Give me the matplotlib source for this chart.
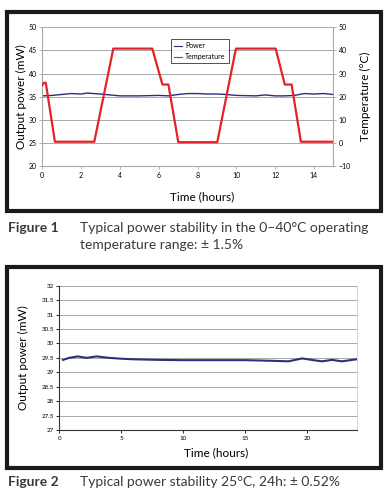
import matplotlib.pyplot as plt
from matplotlib.patches import Rectangle

plt.rcParams['font.family'] = ['Lato', 'DejaVu Sans']

# --- Figure 1 data ---
temp_time = [0, 0.08, 0.18, 0.65, 2.68, 3.66, 5.67, 6.19, 6.5, 7.01, 9.02, 9.98, 12.03, 12.5, 12.85, 13.33, 15]
temp_vals = [25, 26, 26, 0.6, 0.6, 40.8, 40.8, 25.3, 25.3, 0.4, 0.4, 40.8, 40.8, 25.3, 25.3, 0.6, 0.6]

pow1_time = [0, 0.5, 1.0, 1.5, 2.0, 2.3, 3.0, 3.5, 4.0, 5.0, 6.0, 6.5, 7.0, 7.5, 8.0, 8.5,
             9.0, 9.5, 10.0, 11.0, 11.5, 12.0, 12.5, 13.0, 13.5, 14.0, 14.5, 15.0]
pow1_vals = [35.2, 35.3, 35.5, 35.7, 35.6, 35.8, 35.6, 35.4, 35.2, 35.2, 35.3, 35.2, 35.5, 35.7,
             35.7, 35.6, 35.6, 35.5, 35.3, 35.2, 35.4, 35.2, 35.2, 35.3, 35.7, 35.6, 35.7, 35.5]

# --- Figure 2 data ---
pow2_time = [0.3, 0.8, 1.5, 2.2, 3.0, 4.0, 5.0, 6.0, 8.0, 10.0, 12.0, 15.0, 17.0, 18.5,
             19.6, 20.5, 21.2, 22.0, 22.8, 24.0]
pow2_vals = [29.43, 29.5, 29.55, 29.5, 29.55, 29.5, 29.47, 29.45, 29.43, 29.42, 29.42, 29.42,
             29.4, 29.38, 29.48, 29.42, 29.38, 29.43, 29.38, 29.45]

caption1 = ['Typical power stability in the 0\u201340\u00b0C operating', 'temperature range: \u00b1 1.5%']
caption2 = 'Typical power stability 25\u00b0C, 24h: \u00b1 0.52%'

W, H = 386, 501
fig = plt.figure(figsize=(W / 100, H / 100), dpi=100)

def fx(px):
    return px / W

def fy(py):
    return 1 - py / H

# black frames around the two panels
for top, bot in [(12, 211), (267, 468)]:
    fig.patches.append(Rectangle((fx(7), fy(bot)), fx(381) - fx(7), fy(top) - fy(bot),
                                 transform=fig.transFigure, fill=False, edgecolor='#1a1a1a',
                                 linewidth=3))

grid_c = '#a8a8a8'
tick_fs = 5
lab_fs = 8.5

# --- Panel 1 ---
ax1 = fig.add_axes([fx(42.3), fy(166.3), fx(333.3) - fx(42.3), fy(27.3) - fy(166.3)])
ax2 = ax1.twinx()
ax1.plot(pow1_time, pow1_vals, color='#27307a', linewidth=1.0, label='Power')
ax2.plot(temp_time, temp_vals, color='#e4222a', linewidth=1.6, label='Temperature')
ax1.set_xlim(0, 15)
ax1.set_ylim(20, 50)
ax2.set_ylim(-10, 50)
ax1.set_xticks(range(0, 15, 2))
ax1.set_yticks(range(20, 51, 5))
ax2.set_yticks(range(-10, 51, 10))
ax1.grid(axis='y', color=grid_c, linewidth=0.7)
ax1.set_axisbelow(True)
for a in (ax1, ax2):
    a.spines['top'].set_visible(False)
    for s in ['left', 'right', 'bottom']:
        a.spines[s].set_color(grid_c)
        a.spines[s].set_linewidth(0.8)
    a.tick_params(labelsize=tick_fs, length=2, width=0.6, color=grid_c, pad=2)
ax1.spines['right'].set_visible(False)
ax2.spines['left'].set_visible(False)
ax2.spines['bottom'].set_visible(False)
ax1.set_ylabel('Output power (mW)', fontsize=lab_fs)
ax1.yaxis.set_label_coords((21.7 - 42.3) / 291, 0.5, transform=ax1.transAxes)
ax1.yaxis.label.set_va('center')
ax2.set_ylabel('Temperature (\u00b0C)', fontsize=lab_fs)
ax2.yaxis.set_label_coords((365 - 42.3) / 291, 0.5, transform=ax2.transAxes)
ax2.yaxis.label.set_va('center')
ax1.set_xlabel('Time (hours)', fontsize=lab_fs)
ax1.xaxis.set_label_coords((202 - 42.3) / 291, -(197 - 166.3) / 139, transform=ax1.transAxes)
ax1.xaxis.label.set_va('center')

h1, l1 = ax1.get_legend_handles_labels()
h2, l2 = ax2.get_legend_handles_labels()
leg = ax2.legend(h1 + h2, l1 + l2, loc='upper left', bbox_to_anchor=(0.442, 0.915),
                 fontsize=5, frameon=True, fancybox=False, handlelength=1.2,
                 handletextpad=0.4, borderpad=0.45, labelspacing=0.55, borderaxespad=0)
leg.get_frame().set_edgecolor('black')
leg.get_frame().set_linewidth(0.6)
for ln in leg.get_lines():
    ln.set_linewidth(0.8)

# --- Panel 2 ---
ax3 = fig.add_axes([fx(59.3), fy(430), fx(356.7) - fx(59.3), fy(285.7) - fy(430)])
ax3.plot(pow2_time, pow2_vals, color='#2b2f7f', linewidth=1.5)
ax3.set_xlim(0, 24)
ax3.set_ylim(27, 32)
ax3.set_xticks(range(0, 21, 5))
ax3.set_yticks([27 + 0.5 * i for i in range(11)])
ax3.set_yticklabels(['27', '27.5', '28', '28.5', '29', '29.5', '30', '30.5', '31', '31.5', '32'])
ax3.grid(axis='y', color=grid_c, linewidth=0.7)
ax3.set_axisbelow(True)
ax3.spines['top'].set_visible(False)
ax3.spines['right'].set_color('#d0d0d0')
ax3.spines['right'].set_linewidth(0.6)
for s in ['left', 'bottom']:
    ax3.spines[s].set_color('#333333')
    ax3.spines[s].set_linewidth(0.8)
ax3.tick_params(labelsize=4.5, length=2, width=0.6, pad=2)
ax3.set_ylabel('Output power (mW)', fontsize=lab_fs)
ax3.yaxis.set_label_coords((23 - 59.3) / 297.4, 0.5, transform=ax3.transAxes)
ax3.yaxis.label.set_va('center')
ax3.set_xlabel('Time (hours)', fontsize=lab_fs)
ax3.xaxis.set_label_coords((216 - 59.3) / 297.4, -(453 - 430) / 144.3, transform=ax3.transAxes)
ax3.xaxis.label.set_va('center')

# --- Captions ---
cap_c = '#3a3a3a'
cap_fs = 10
fig.text(fx(8), fy(228), 'Figure 1', fontsize=cap_fs, fontweight='bold', color=cap_c, va='center')
fig.text(fx(80), fy(228), caption1[0], fontsize=cap_fs, color=cap_c, va='center')
fig.text(fx(80), fy(245), caption1[1], fontsize=cap_fs, color=cap_c, va='center')
fig.text(fx(8), fy(482), 'Figure 2', fontsize=cap_fs, fontweight='bold', color=cap_c, va='center')
fig.text(fx(80), fy(482), caption2, fontsize=cap_fs, color=cap_c, va='center')

fig.savefig('out.png', dpi=100)
